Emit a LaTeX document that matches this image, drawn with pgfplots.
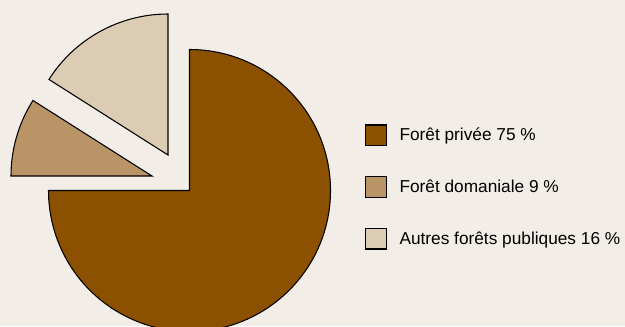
\documentclass[border=0pt]{standalone}
\usepackage{pgfplots}
\pgfplotsset{compat=1.18}
\usepackage{fontspec}
\setmainfont{Liberation Sans}
\definecolor{bg}{HTML}{F2EEE7}
\definecolor{cPriv}{HTML}{8B5100}
\definecolor{cDom}{HTML}{B89467}
\definecolor{cAut}{HTML}{DBCCB3}
\def\R{105.75pt}
\begin{document}
\begin{tikzpicture}
\begin{axis}[
  at={(0,0)}, anchor=origin,
  x=0.75pt, y=0.75pt, disabledatascaling,
  xmin=0, xmax=625, ymin=0, ymax=326,
  hide axis, clip=true,
  legend image code/.code={\draw[#1] (0pt,-7.7pt) rectangle (15.4pt,7.7pt);},
  legend style={at={(0.584,0.4264)}, anchor=west, draw=none, fill=none,
    font=\fontsize{12.95}{15}\selectfont, row sep=22.6pt, inner sep=0pt,
    cells={anchor=west},
    /tikz/every odd column/.append style={column sep=7.5pt}},
]
\fill[bg] (axis cs:0,0) rectangle (axis cs:625,326);
% Forêt privée 75 %
\filldraw[fill=cPriv, line width=0.8pt] (axis cs:189.5,135.5) -- ++(90:\R)
  arc[start angle=90, delta angle=-3.6*75, radius=\R] -- cycle;
% Forêt domaniale 9 % (exploded)
\filldraw[fill=cDom, line width=0.8pt] (axis cs:152,150) -- ++(180:\R)
  arc[start angle=180, delta angle=-3.6*9, radius=\R] -- cycle;
% Autres forêts publiques 16 % (exploded)
\filldraw[fill=cAut, line width=0.8pt] (axis cs:168,171) -- ++(147.6:\R)
  arc[start angle=147.6, delta angle=-3.6*16, radius=\R] -- cycle;
\addlegendimage{fill=cPriv, draw=black, line width=0.8pt}
\addlegendentry{Forêt privée 75 \%}
\addlegendimage{fill=cDom, draw=black, line width=0.8pt}
\addlegendentry{Forêt domaniale 9 \%}
\addlegendimage{fill=cAut, draw=black, line width=0.8pt}
\addlegendentry{Autres forêts publiques 16 \%}
\end{axis}
\pgfresetboundingbox
\path (0,0) rectangle (468.75pt,244.5pt);
\end{tikzpicture}
\end{document}
